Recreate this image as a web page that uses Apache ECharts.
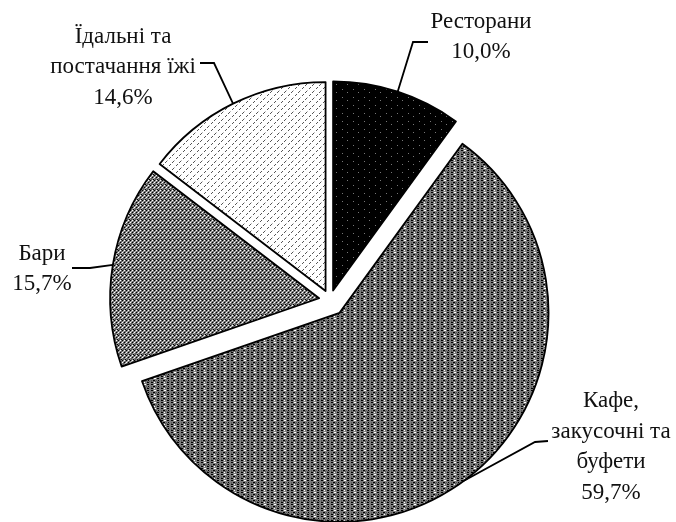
<!DOCTYPE html>
<html><head><meta charset="utf-8">
<script src="https://cdn.jsdelivr.net/npm/echarts@6/dist/echarts.min.js"></script>
<style>html,body{margin:0;background:#fff}#c{width:676px;height:522px}</style>
</head><body><div id="c"></div>
<script>
// ---- data ----
const categories = ['Ресторани', 'Кафе,\nзакусочні та\nбуфети', 'Бари', 'Їдальні та\nпостачання їжі'];
const shares = [10.0, 59.7, 15.7, 14.6];

// ---- styles ----
function tile(rows, pal) {
  const c = document.createElement('canvas');
  c.width = rows[0].length; c.height = rows.length;
  const ctx = c.getContext('2d');
  rows.forEach((r, y) => { for (let x = 0; x < r.length; x++) { ctx.fillStyle = pal[r[x]]; ctx.fillRect(x, y, 1, 1); } });
  return { image: c, repeat: 'repeat' };
}
const pal = { K: '#000', W: '#fff', g: '#7c7c7c', m: '#5a5a5a', l: '#bdbdbd', d: '#555', s: '#777' };
const patterns = [
  tile(['KKKKKKKKKKK','KsKKKKKKKKK','KKKKKKKKKKK','KKKKKKKKKKK','KKKKKKsKKKK','KKKKKKKKKKK','KKKKKKKKKKK','KKKKKKKKKKK'], pal),
  tile(['gKKgWWgKKg','gggggggggg','gmgKKgmgKg','gmgmgmgmgm','gKKgWggKKg','gggggggggg'], pal),
  tile(['WgKgWgKg','gmglgmgl','KgWgKgWg','glgmglgm','gKgmgKgm'], pal),
  tile(['WWWWWdW','WWWWdWW','WWWWWWW','WWdWWWW','WdWWWWW','WWWWWWW','WWWWWWl'], pal)
];
const R = 209, C = [330, 300];
const offsets = [10, 16, 11, 10];
const labelPos = [[481, 37], [611, 447], [42, 269], [123, 67]];
const elbows = [[[413, 42], [428, 42]], [[535, 442], [548, 441]], [[90, 268], [72, 268]], [[214, 63], [200, 63]]];

const total = shares.reduce((a, b) => a + b, 0);
let cum = 0;
const series = categories.map((name, i) => {
  const start = cum / total * 360; cum += shares[i]; const end = cum / total * 360;
  const mid = (start + end) / 2 * Math.PI / 180;
  const cx = C[0] + offsets[i] * Math.sin(mid), cy = C[1] - offsets[i] * Math.cos(mid);
  const edge = [cx + R * Math.sin(mid), cy - R * Math.cos(mid)];
  return {
    type: 'pie', center: [cx, cy], radius: R, startAngle: 90, clockwise: true,
    silent: true, animation: false, avoidLabelOverlap: false,
    data: categories.map((n, j) => ({
      name: n, value: shares[j],
      itemStyle: j === i ? { color: patterns[i], borderColor: '#000', borderWidth: 1.8 } : { color: 'rgba(0,0,0,0)', borderWidth: 0 },
      label: { show: j === i }, labelLine: { show: j === i }
    })),
    label: {
      position: 'outside', color: '#111', fontFamily: 'Liberation Serif', fontSize: 23, lineHeight: 30.5,
      formatter: p => p.name + '\n' + p.value.toFixed(1).replace('.', ',') + '%'
    },
    labelLine: { lineStyle: { color: '#000', width: 1.8 }, length: 40, length2: 14 },
    labelLayout: function (params) {
      if (params.dataIndex !== i) return {};
      return { x: labelPos[i][0], y: labelPos[i][1], align: 'center', verticalAlign: 'middle',
        labelLinePoints: [edge, elbows[i][0], elbows[i][1]] };
    }
  };
});

const chart = echarts.init(document.getElementById('c'));
chart.setOption({ backgroundColor: '#fff', series });
</script></body></html>
